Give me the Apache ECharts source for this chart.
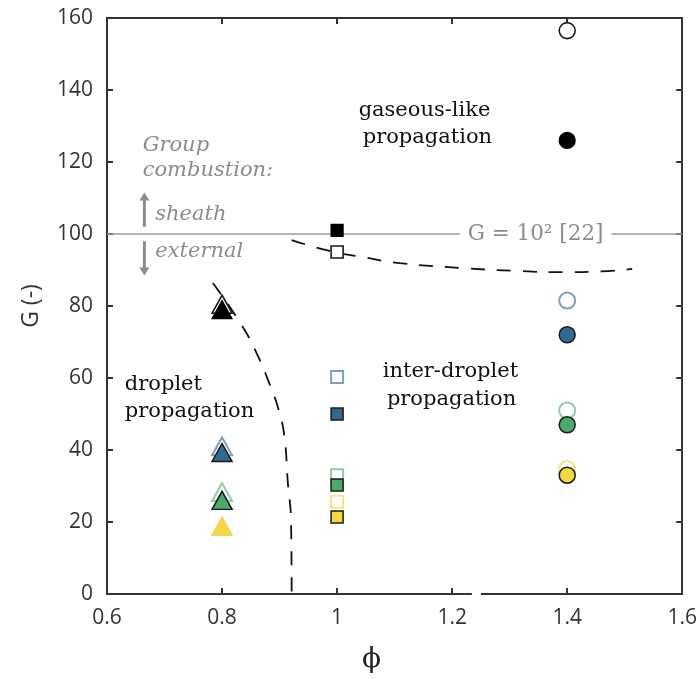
<!DOCTYPE html>
<html>
<head>
<meta charset="utf-8">
<script src="https://cdn.jsdelivr.net/npm/echarts@6/dist/echarts.min.js"></script>
<style>
  html, body { margin: 0; padding: 0; background: #fff; }
  #chart { width: 700px; height: 679px; }
</style>
</head>
<body>
<div id="chart"></div>
<script>
// Equivalence ratio (phi) vs. group number G, one series per colour group.
// Triangles: phi = 0.8, squares: phi = 1.0, circles: phi = 1.4
const blackOpen   = [[0.8, 80.5], [1.0, 95.0], [1.4, 156.5]];
const blackFilled = [[0.8, 79.0], [1.0, 101.0], [1.4, 126.0]];
const blueOpen    = [[0.8, 41.0], [1.0, 60.3], [1.4, 81.5]];
const blueFilled  = [[0.8, 39.3], [1.0, 50.0], [1.4, 72.0]];
const greenOpen   = [[0.8, 28.3], [1.0, 33.0], [1.4, 51.0]];
const greenFilled = [[0.8, 26.0], [1.0, 30.3], [1.4, 47.0]];
const yellowOpen  = [[1.0, 25.6], [1.4, 34.7]];
const yellowFilled = [[0.8, 18.8], [1.0, 21.4], [1.4, 33.0]];

// Regime boundaries (dashed)
const dropletBoundary = [[0.784, 86.4], [0.834, 74.7], [0.860, 66.9], [0.880, 59.4], [0.900, 50.3],
                         [0.909, 42.8], [0.914, 31.7], [0.920, 19.7], [0.921, 0]];
const gaseousBoundary = [[0.921, 98.3], [0.987, 95.3], [1.044, 93.6], [1.109, 91.9], [1.213, 90.6],
                         [1.317, 89.7], [1.399, 89.4], [1.460, 89.6], [1.513, 90.3]];
const groupLimit = [[0.6, 100], [1.6, 100]];

const xTicks = { min: 0.6, max: 1.6, interval: 0.2 };
const yTicks = { min: 0, max: 160, interval: 20 };

const serif = '"DejaVu Serif", serif';
const sans = '"Open Sans", sans-serif';
const axisColor = '#333';
const noteGray = '#8c8c8c';

function shapeFor(phi) {
  if (phi < 0.9) return 'triangle';
  if (phi < 1.2) return 'rect';
  return 'circle';
}
function sizeFor(phi) {
  if (phi < 0.9) return [20, 18];
  if (phi < 1.2) return 12;
  return 16;
}

function markerSeries(name, data, fill, edge, width, z, itemOverrides) {
  return {
    name: name,
    type: 'scatter',
    z: z,
    data: data.map(function (d, i) {
      const item = { value: d };
      if (itemOverrides && itemOverrides[i]) item.itemStyle = itemOverrides[i];
      return item;
    }),
    symbol: function (v) { return shapeFor(v[0]); },
    symbolSize: function (v) { return sizeFor(v[0]); },
    itemStyle: { color: fill, borderColor: edge, borderWidth: width, opacity: 1 },
    emphasis: { disabled: true }
  };
}

function dashed(data) {
  return {
    type: 'line', data: data, smooth: true, showSymbol: false, z: 3,
    lineStyle: { color: '#111', width: 1.8, type: [14, 12] },
    emphasis: { disabled: true }
  };
}

const chart = echarts.init(document.getElementById('chart'), null, { renderer: 'canvas' });

const axisCommon = {
  type: 'value',
  axisLine: { show: true, onZero: false, lineStyle: { color: axisColor, width: 2 } },
  axisTick: { show: true, inside: true, length: 6, lineStyle: { color: axisColor, width: 2 } },
  splitLine: { show: false }
};

chart.setOption({
  animation: false,
  backgroundColor: '#fff',
  grid: { left: 107, right: 17, top: 18, bottom: 85 },
  xAxis: [
    Object.assign({}, axisCommon, xTicks, {
      position: 'bottom',
      name: 'ϕ', nameLocation: 'middle', nameGap: 52,
      nameTextStyle: { fontFamily: serif, fontSize: 28, color: '#222', padding: [0, 46, 0, 0] },
      axisLabel: { fontFamily: sans, fontSize: 21, color: axisColor, margin: 14 }
    }),
    Object.assign({}, axisCommon, xTicks, { position: 'top', axisLabel: { show: false } })
  ],
  yAxis: [
    Object.assign({}, axisCommon, yTicks, {
      position: 'left',
      name: 'G (-)', nameLocation: 'middle', nameGap: 64,
      nameTextStyle: { fontFamily: sans, fontSize: 23, color: axisColor },
      axisLabel: { fontFamily: sans, fontSize: 21, color: axisColor, margin: 14 }
    }),
    Object.assign({}, axisCommon, yTicks, { position: 'right', axisLabel: { show: false } })
  ],
  series: [
    {
      type: 'line', data: groupLimit, showSymbol: false, z: 1,
      lineStyle: { color: '#9a9a9a', width: 1.5 }, emphasis: { disabled: true }
    },
    dashed(dropletBoundary),
    dashed(gaseousBoundary),
    markerSeries('black open', blackOpen, '#fff', '#1a1a1a', 1.6, 4),
    markerSeries('black', blackFilled, '#000', '#000', 1.2, 5),
    markerSeries('blue open', blueOpen, '#fff', '#7f9fbf', 2, 4),
    markerSeries('blue', blueFilled, '#33678f', '#1b1b1b', 1.5, 5),
    markerSeries('green open', greenOpen, '#fff', '#8fcda4', 2, 4),
    markerSeries('green', greenFilled, '#4cab6c', '#1b1b1b', 1.5, 5),
    markerSeries('yellow open', yellowOpen, '#fff', '#f3e58a', 2, 4),
    markerSeries('yellow', yellowFilled, '#f5d73f', '#1b1b1b', 1.5, 5,
                 [{ borderColor: '#e7d365' }])
  ]
});

// Annotations placed in data coordinates
function px(phi, g) { return chart.convertToPixel({ xAxisIndex: 0, yAxisIndex: 0 }, [phi, g]); }

function note(text, phi, g, opts) {
  const p = px(phi, g);
  return {
    type: 'text', x: p[0], y: p[1], z: 20,
    style: Object.assign({
      text: text, fontFamily: serif, fontSize: 21, fill: '#111',
      textAlign: 'left', textVerticalAlign: 'middle'
    }, opts || {})
  };
}

function arrow(phi, gFrom, gTo) {
  const a = px(phi, gFrom), b = px(phi, gTo);
  const dir = b[1] < a[1] ? -1 : 1;
  return [
    { type: 'line', z: 20, shape: { x1: a[0], y1: a[1], x2: b[0], y2: b[1] - dir * 6 },
      style: { stroke: noteGray, lineWidth: 3 } },
    { type: 'polygon', z: 20,
      shape: { points: [[b[0] - 5, b[1] - dir * 8], [b[0] + 5, b[1] - dir * 8], [b[0], b[1]]] },
      style: { fill: noteGray } }
  ];
}

const italicGray = { fill: noteGray, fontStyle: 'italic', fontSize: 21 };
const graphics = [
  note('gaseous-like', 1.152, 134.4, { textAlign: 'center' }),
  note('propagation', 1.157, 126.7, { textAlign: 'center' }),
  note('inter-droplet', 1.197, 61.7, { textAlign: 'center' }),
  note('propagation', 1.199, 53.9, { textAlign: 'center' }),
  note('droplet', 0.631, 58.3),
  note('propagation', 0.631, 50.8),
  note('Group', 0.662, 124.6, italicGray),
  note('combustion:', 0.662, 117.6, italicGray),
  note('sheath', 0.684, 105.3, italicGray),
  note('external', 0.684, 95.0, italicGray),
  note('G = 10² [22]', 1.345, 100, {
    textAlign: 'center', fill: noteGray, fontSize: 21.5,
    backgroundColor: '#fff', padding: [2, 8]
  })
].concat(arrow(0.665, 102, 111.5), arrow(0.665, 98, 88.5));

// small break in the bottom frame line
const gap = px(1.243, 0);
graphics.push({ type: 'rect', z: 25, shape: { x: gap[0] - 5, y: gap[1] - 2, width: 9, height: 4 },
                style: { fill: '#fff' } });

chart.setOption({ graphic: graphics });
</script>
</body>
</html>
